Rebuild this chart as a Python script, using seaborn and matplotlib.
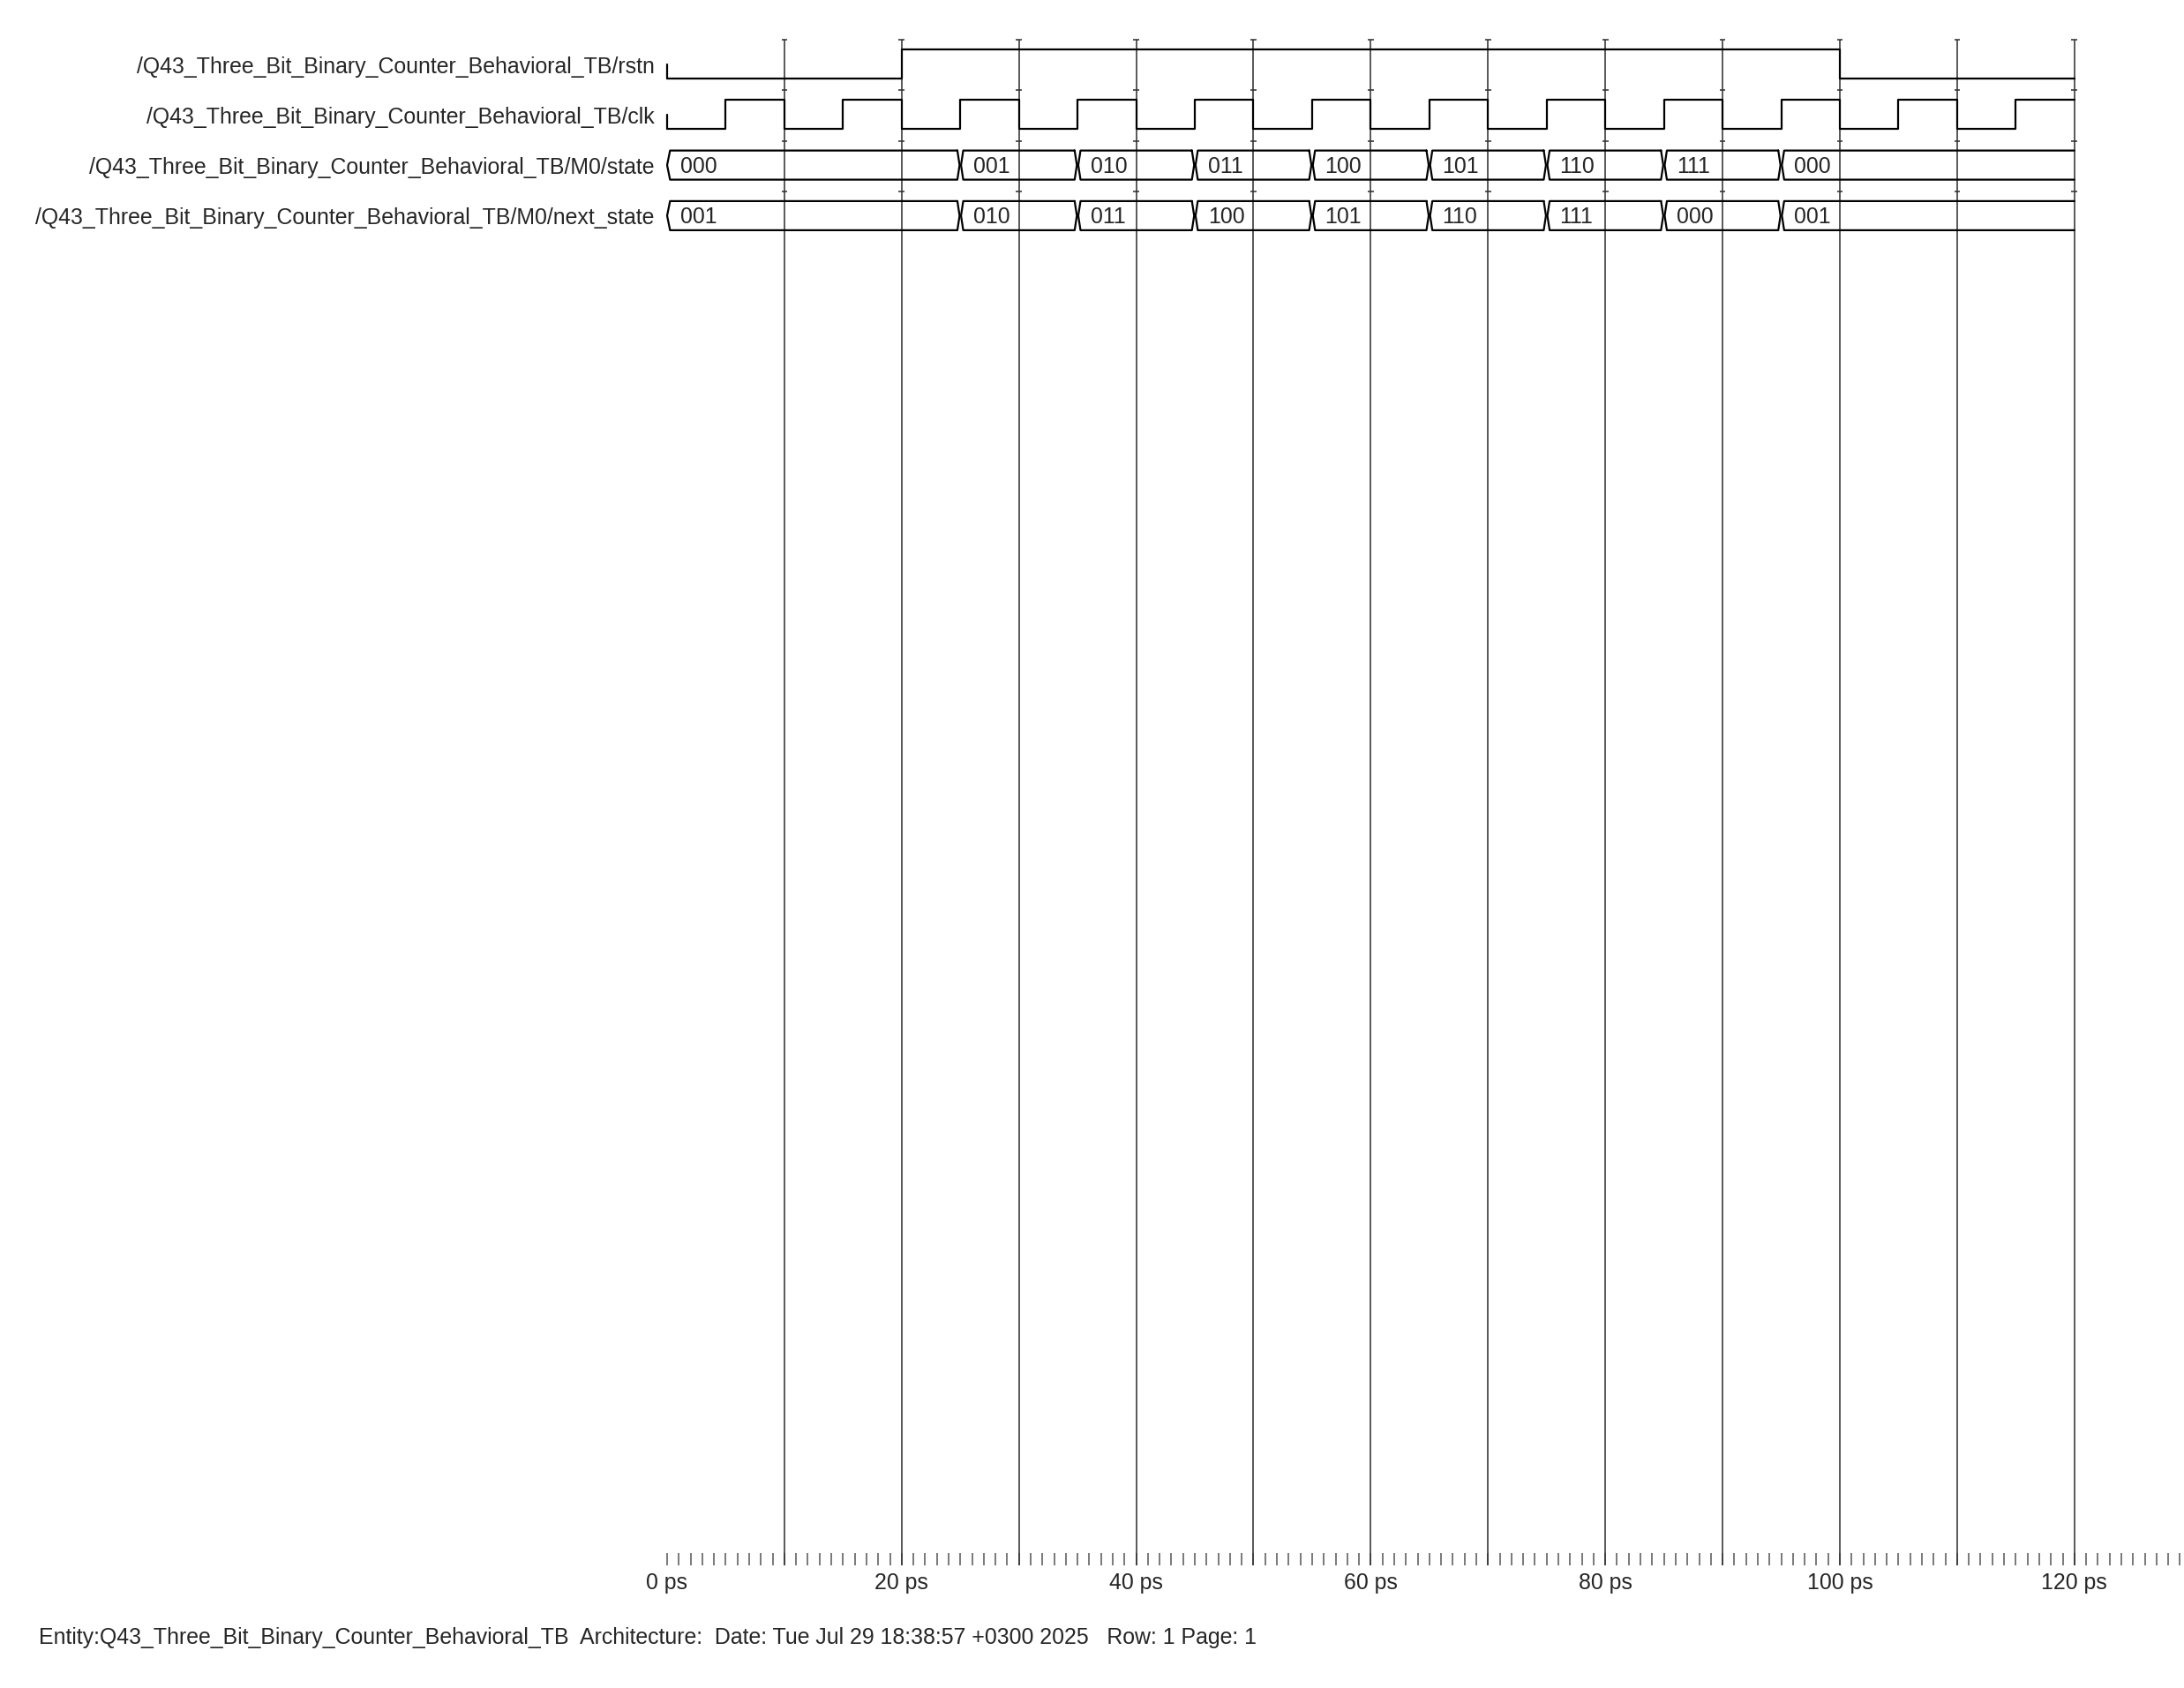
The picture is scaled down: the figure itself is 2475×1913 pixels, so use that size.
import matplotlib
matplotlib.use("Agg")
import matplotlib.pyplot as plt
from matplotlib import font_manager
from matplotlib.ticker import FixedLocator, FuncFormatter
import seaborn as sns
import pandas as pd

# signal names (left column)
signal_names = [
    "/Q43_Three_Bit_Binary_Counter_Behavioral_TB/rstn",
    "/Q43_Three_Bit_Binary_Counter_Behavioral_TB/clk",
    "/Q43_Three_Bit_Binary_Counter_Behavioral_TB/M0/state",
    "/Q43_Three_Bit_Binary_Counter_Behavioral_TB/M0/next_state",
]

# digital signals: edge times (ps) and level after each edge
rstn_times = [0, 20, 100, 120]
rstn_levels = [0, 1, 0, 0]
clk_times = [0, 5, 10, 15, 20, 25, 30, 35, 40, 45, 50, 55, 60, 65, 70, 75, 80,
             85, 90, 95, 100, 105, 110, 115, 120]
clk_levels = [0, 1, 0, 1, 0, 1, 0, 1, 0, 1, 0, 1, 0, 1, 0, 1, 0,
              1, 0, 1, 0, 1, 0, 1, 1]

# bus signals: change times (ps) and values
bus_times = [0, 25, 35, 45, 55, 65, 75, 85, 95]
state_values = ["000", "001", "010", "011", "100", "101", "110", "111", "000"]
next_state_values = ["001", "010", "011", "100", "101", "110", "111", "000", "001"]
end_time = 120

grid_times = [10, 20, 30, 40, 50, 60, 70, 80, 90, 100, 110, 120]
minor_ticks = list(range(0, 130))
label_ticks = [0, 20, 40, 60, 80, 100, 120]

footer = ("Entity:Q43_Three_Bit_Binary_Counter_Behavioral_TB  Architecture:  "
          "Date: Tue Jul 29 18:38:57 +0300 2025   Row: 1 Page: 1")

# layout (pixels of the output image)
W, H = 2475, 1913
T0_PX = 756
PX_PER_PS = 13.29
ROW_TOP = 45
ROW_PITCH = 57.3
HI_OFF, LO_OFF = 11, 44
RULER_Y = 1774

sns.set_style("white")
names = {f.name for f in font_manager.fontManager.ttflist}
family = "Liberation Sans" if "Liberation Sans" in names else "DejaVu Sans"
plt.rcParams["font.family"] = [family, "DejaVu Sans"]
FS = 17.9

fig = plt.figure(figsize=(W / 100, H / 100), dpi=100)
ax = fig.add_axes([0, 0, 1, 1])
ax.set_xlim(-T0_PX / PX_PER_PS, (W - T0_PX) / PX_PER_PS)
ax.set_ylim(H, 0)
for s in ["top", "left", "right", "bottom"]:
    ax.spines[s].set_visible(False)
ax.spines["bottom"].set_position(("data", RULER_Y))
ax.set_yticks([])

WAVE = dict(color="black", lw=1.6)


def row_top(i):
    return ROW_TOP + i * ROW_PITCH


# grid lines and row separator marks
ax.vlines(grid_times, ROW_TOP, RULER_Y, color="#333333", lw=1.15, zorder=1)
for i in range(4):
    ax.hlines([row_top(i)] * len(grid_times), [t - 0.25 for t in grid_times],
              [t + 0.25 for t in grid_times], color="#333333", lw=1.15)

# labels
for i, name in enumerate(signal_names):
    ax.text(-1.1, row_top(i) + (HI_OFF + LO_OFF) / 2 + 3, name, ha="right",
            va="center", fontsize=FS)

# digital signals
for i, (times, levels) in enumerate([(rstn_times, rstn_levels), (clk_times, clk_levels)]):
    top = row_top(i)
    df = pd.DataFrame({"t": times,
                       "y": [top + LO_OFF - (LO_OFF - HI_OFF) * v for v in levels]})
    sns.lineplot(data=df, x="t", y="y", drawstyle="steps-post", estimator=None,
                 ax=ax, legend=False, zorder=3, **WAVE)
    ax.plot([times[0], times[0]], [top + (HI_OFF + LO_OFF) / 2, df["y"].iloc[0]],
            zorder=3, **WAVE)

# bus signals
d = 0.25
for i, values in enumerate([state_values, next_state_values], start=2):
    top = row_top(i)
    y_hi, y_lo, y_mid = top + HI_OFF, top + LO_OFF, top + (HI_OFF + LO_OFF) / 2
    ends = bus_times[1:] + [end_time]
    for k, (t1, t2, v) in enumerate(zip(bus_times, ends, values)):
        m1 = t1 if k == 0 else t1 + 0.06
        if k == len(values) - 1:
            xs = [t2, t1 + d, m1, t1 + d, t2]
            ys = [y_hi, y_hi, y_mid, y_lo, y_lo]
        else:
            xs = [t2 - d, t1 + d, m1, t1 + d, t2 - d, t2 - 0.06, t2 - d]
            ys = [y_hi, y_hi, y_mid, y_lo, y_lo, y_mid, y_hi]
        ax.plot(xs, ys, zorder=3, **WAVE)
        ax.text(t1 + 1.1, y_mid + 2, v, ha="left", va="center", fontsize=FS)

# time ruler
ax.xaxis.set_major_locator(FixedLocator(label_ticks))
ax.xaxis.set_minor_locator(FixedLocator(minor_ticks))
ax.xaxis.set_major_formatter(FuncFormatter(lambda x, p: f"{int(x)} ps"))
ax.tick_params(axis="x", which="both", direction="in", length=10, width=1.1,
               color="#555555", bottom=True, labelsize=FS, pad=6)
ax.set_xlabel("")
ax.set_ylabel("")

fig.text(44 / W, 1 - 1856 / H, footer, ha="left", va="center", fontsize=FS)

fig.savefig("out.png", dpi=100, facecolor="white")
